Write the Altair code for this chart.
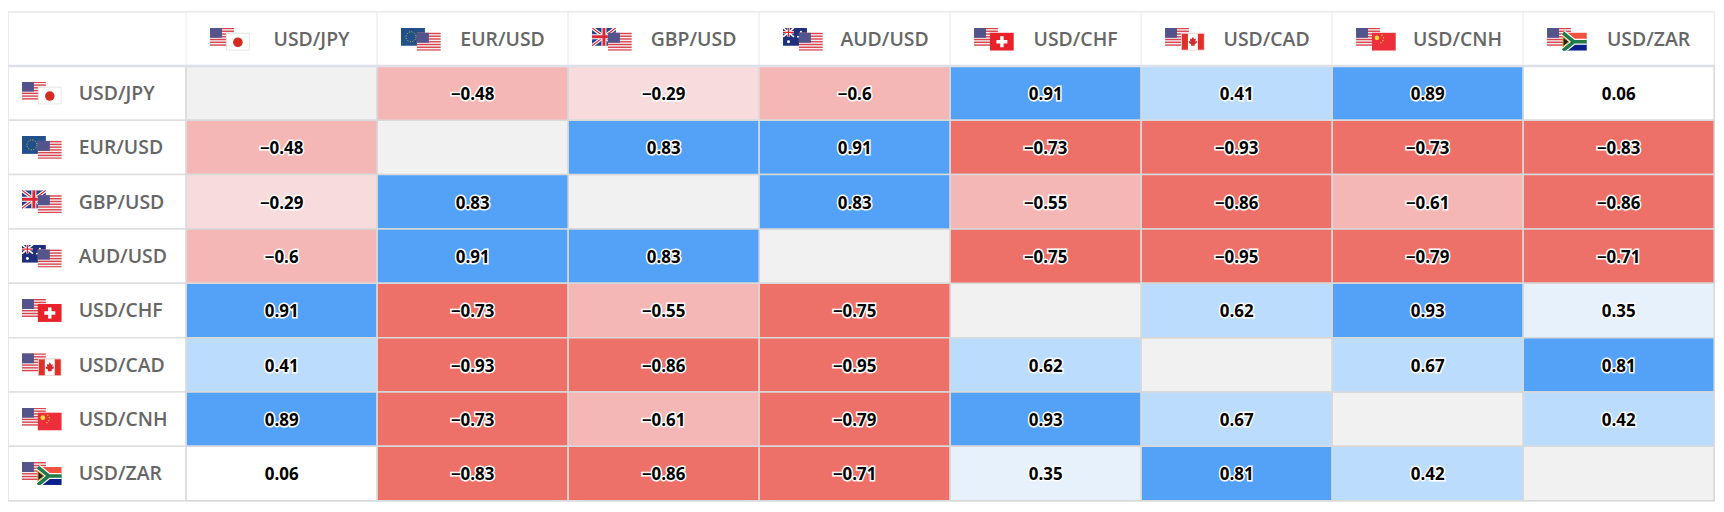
import urllib.parse
import altair as alt
import pandas as pd

pairs = ["USD/JPY", "EUR/USD", "GBP/USD", "AUD/USD", "USD/CHF", "USD/CAD", "USD/CNH", "USD/ZAR"]
row_jpy = [None, -0.48, -0.29, -0.6, 0.91, 0.41, 0.89, 0.06]
row_eur = [-0.48, None, 0.83, 0.91, -0.73, -0.93, -0.73, -0.83]
row_gbp = [-0.29, 0.83, None, 0.83, -0.55, -0.86, -0.61, -0.86]
row_aud = [-0.6, 0.91, 0.83, None, -0.75, -0.95, -0.79, -0.71]
row_chf = [0.91, -0.73, -0.55, -0.75, None, 0.62, 0.93, 0.35]
row_cad = [0.41, -0.93, -0.86, -0.95, 0.62, None, 0.67, 0.81]
row_cnh = [0.89, -0.73, -0.61, -0.79, 0.93, 0.67, None, 0.42]
row_zar = [0.06, -0.83, -0.86, -0.71, 0.35, 0.81, 0.42, None]
matrix = [row_jpy, row_eur, row_gbp, row_aud, row_chf, row_cad, row_cnh, row_zar]

thresholds = [-0.7, -0.4, -0.2, 0.2, 0.4, 0.7]
shades = ["#ee7169", "#f4b7b6", "#f8dcdd", "#ffffff", "#e6f1fc", "#bbdcfd", "#53a2f7"]


def us():
    stripes = "".join(f'<rect y="{i * 18 / 13:.2f}" width="24" height="{18 / 13:.2f}" fill="#d9434e"/>' for i in range(0, 13, 2))
    return f'<rect width="24" height="18" fill="#f4f0f0"/>{stripes}<rect width="12" height="10" fill="#54548c"/>'


FLAGS = {
    "USD": us(),
    "JPY": '<rect x=".5" y=".5" width="23" height="17" fill="#fff" stroke="#e2e2e2"/><circle cx="12" cy="9.5" r="4.8" fill="#d32a23"/>',
    "EUR": '<rect width="24" height="18" fill="#22508a"/><circle cx="10" cy="9" r="5" fill="none" stroke="#d8c83c" stroke-width="1" stroke-dasharray="1 1.6"/>',
    "GBP": '<rect width="24" height="18" fill="#2b3f86"/><path d="M0 0L24 18M24 0L0 18" stroke="#fff" stroke-width="3.4"/><path d="M0 0L24 18M24 0L0 18" stroke="#d9283a" stroke-width="1.2"/><path d="M12 0V18M0 9H24" stroke="#fff" stroke-width="5"/><path d="M12 0V18M0 9H24" stroke="#d9283a" stroke-width="3"/>',
    "AUD": '<rect width="24" height="18" fill="#1f2f7c"/><path d="M0 0L11 9M11 0L0 9" stroke="#fff" stroke-width="1.6"/><path d="M5.5 0V9M0 4.5H11" stroke="#fff" stroke-width="2.4"/><path d="M5.5 0V9M0 4.5H11" stroke="#d9283a" stroke-width="1.2"/><circle cx="5.5" cy="14" r="1.5" fill="#fff"/><circle cx="18" cy="4" r="1" fill="#fff"/><circle cx="21" cy="8" r="1" fill="#fff"/><circle cx="15" cy="9" r="1" fill="#fff"/><circle cx="18" cy="14" r="1" fill="#fff"/>',
    "CHF": '<rect width="24" height="18" fill="#e8222a"/><path d="M12 3.5V14.5M6.5 9H17.5" stroke="#fff" stroke-width="3.4"/>',
    "CAD": '<rect x=".5" y=".5" width="23" height="17" fill="#fff" stroke="#eccfcf"/><rect x="1" y="1" width="6" height="16" fill="#e0302a"/><rect x="17" y="1" width="6" height="16" fill="#e0302a"/><path d="M12 4l1.4 2.4 1.6-.6-.5 3 1.8-.6-.6 2-2 1.2.2 1.6h-3.8l.2-1.6-2-1.2-.6-2 1.8.6-.5-3 1.6.6z" fill="#d9262b"/>',
    "CNH": '<rect width="24" height="18" fill="#ed2f3b"/><circle cx="5" cy="5" r="2.4" fill="#f6dc3c"/><circle cx="10" cy="2.5" r=".7" fill="#f6dc3c"/><circle cx="11.5" cy="5" r=".7" fill="#f6dc3c"/><circle cx="11" cy="8" r=".7" fill="#f6dc3c"/><circle cx="9" cy="10" r=".7" fill="#f6dc3c"/>',
    "ZAR": '<rect width="24" height="9" fill="#ef5340"/><rect y="9" width="24" height="9" fill="#0a1f8a"/><path d="M0 0L11 9L0 18M11 9H24" fill="none" stroke="#fff" stroke-width="6"/><path d="M0 0L11 9L0 18M11 9H24" fill="none" stroke="#1f7a48" stroke-width="3.6"/><path d="M0 4L6 9L0 14Z" fill="#222" stroke="#f0b429" stroke-width="1"/>',
}


def composite(pair):
    a, b = pair.split("/")
    svg = (
        '<svg xmlns="http://www.w3.org/2000/svg" width="40" height="23" viewBox="0 0 40 23">'
        f'<g transform="translate(0 0)">{FLAGS[a]}</g>'
        f'<g transform="translate(16 5)">{FLAGS[b]}</g></svg>'
    )
    return "data:image/svg+xml," + urllib.parse.quote(svg)


records = []
for r, row in enumerate(matrix):
    for c, v in enumerate(row):
        records.append({"r": r, "r2": r + 1, "c": c, "c2": c + 1, "mid": r + 0.5, "cm": c + 0.5, "v": v,
                        "txt": "" if v is None else f"{v:g}".replace("-", "\u2212")})
cells = pd.DataFrame(records)
heads = pd.DataFrame([{"i": i, "i2": i + 1, "m": i + 0.5, "pair": p, "url": composite(p)} for i, p in enumerate(pairs)])

W, H = 1716, 496
xs = alt.Scale(domain=[-0.9328, 8.0094], nice=False, zero=False)
ys = alt.Scale(domain=[8.04, -1.044], nice=False, zero=False)
X = lambda f: alt.X(f, type="quantitative", scale=xs, axis=None)
Y = lambda f: alt.Y(f, type="quantitative", scale=ys, axis=None)
FONT = "Open Sans"

background = alt.Chart(pd.DataFrame({"a": [-0.9328], "b": [8.0], "t": [-0.99], "u": [8.0]})).mark_rect(
    fill="#ffffff", stroke="#e3e6e8", strokeWidth=1.5
).encode(x=X("a"), x2="b", y=Y("t"), y2="u")

head_cells = alt.Chart(heads).mark_rect(fill="#ffffff", stroke="#ebedef", strokeWidth=1).encode(
    x=X("i"), x2="i2", y=alt.Y("a:Q", scale=ys, axis=None), y2="b:Q"
).transform_calculate(a="-0.99", b="0")

row_cells = alt.Chart(heads).mark_rect(fill="#ffffff", stroke="#dfdfdf", strokeWidth=1.5).encode(
    x=alt.X("a:Q", scale=xs, axis=None), x2="b:Q", y=Y("i"), y2="i2"
).transform_calculate(a="-0.9328", b="0")

head_line = alt.Chart(pd.DataFrame({"y": [0]})).mark_rule(color="#dde0e8", strokeWidth=2.5).encode(
    y=Y("y"), x=alt.value(0), x2=alt.value(1714)
)

blank = alt.Chart(cells[cells.v.isna()]).mark_rect(fill="#f1f1f1", stroke="#d9d9d9", strokeWidth=1.5).encode(
    x=X("c"), x2="c2", y=Y("r"), y2="r2"
)
filled = alt.Chart(cells[cells.v.notna()]).mark_rect(stroke="#d9d9d9", strokeWidth=1.5).encode(
    x=X("c"), x2="c2", y=Y("r"), y2="r2",
    fill=alt.Fill("v:Q", scale=alt.Scale(type="threshold", domain=thresholds, range=shades), legend=None),
)
value_data = cells[cells.v.notna()]
halo = alt.Chart(value_data).mark_text(
    font=FONT, fontSize=17, fontWeight=700, color="#ffffff", stroke="#ffffff", strokeWidth=3, baseline="middle", dy=2
).encode(x=X("cm"), y=Y("mid"), text="txt:N")
values = alt.Chart(value_data).mark_text(
    font=FONT, fontSize=17, fontWeight=700, color="#000000", baseline="middle", dy=2
).encode(x=X("cm"), y=Y("mid"), text="txt:N")

head_flags = alt.Chart(heads).mark_image(width=40, height=23, xOffset=-52).encode(
    x=X("m"), y=alt.Y("mid:Q", scale=ys, axis=None), url="url:N"
).transform_calculate(mid="-0.49")
head_text = alt.Chart(heads).mark_text(
    font=FONT, fontSize=19.5, fontWeight=600, color="#666666", baseline="middle", xOffset=30
).encode(x=X("m"), y=alt.Y("mid:Q", scale=ys, axis=None), text="pair:N").transform_calculate(mid="-0.47")
row_flags = alt.Chart(heads).mark_image(width=40, height=23).encode(
    x=alt.value(34), y=Y("m"), url="url:N"
)
row_text = alt.Chart(heads).mark_text(
    font=FONT, fontSize=19.5, fontWeight=600, color="#666666", baseline="middle", align="left", dy=1
).encode(x=alt.value(71), y=Y("m"), text="pair:N")

chart = alt.layer(
    background, head_cells, row_cells, blank, filled, head_line, halo, values,
    head_flags, head_text, row_flags, row_text,
).properties(
    width=W, height=H, padding=0, autosize=alt.AutoSizeParams(type="none"), background="#ffffff"
).configure_view(stroke=None)

chart.save("out.html", embed_options={"renderer": "svg", "actions": False})
